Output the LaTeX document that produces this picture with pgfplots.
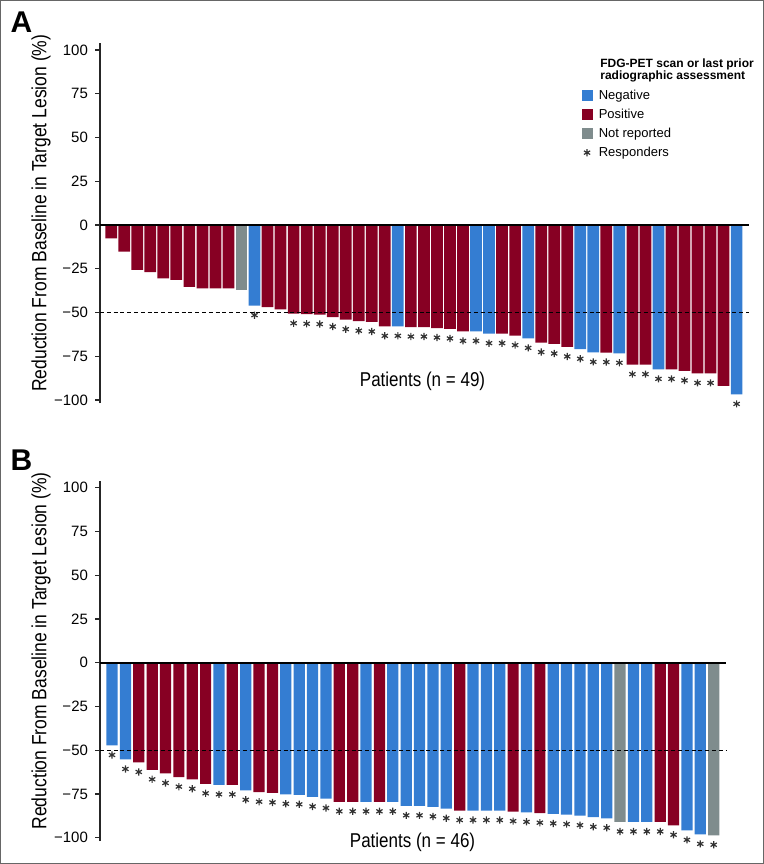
\documentclass[border=0pt]{standalone}
\usepackage{pgfplots}
\pgfplotsset{compat=1.18}
\usepackage{fontspec}
\setmainfont{Liberation Sans}
\newfontfamily\condfont[FakeStretch=0.85]{Liberation Sans}
\definecolor{negblue}{RGB}{52,125,210}
\definecolor{posred}{RGB}{135,0,35}
\definecolor{nrgray}{RGB}{127,140,141}
\definecolor{stargray}{RGB}{50,50,50}
\pgfplotsset{
  wf/.style={
    scale only axis, height=180.25pt,
    ymin=-102, ymax=104,
    axis x line=none, axis y line*=left,
    y axis line style={line width=0.9pt, black!85},
    ytick={-100,-75,-50,-25,0,25,50,75,100},
    yticklabels={−100,−75,−50,−25,0,25,50,75,100},
    tick align=outside, major tick length=2.5pt,
    ytick style={line width=0.6pt, black!85},
    yticklabel style={font=\fontsize{7.5}{9}\selectfont},
    ylabel={Reduction From Baseline in Target Lesion (\%)},
    ylabel style={font=\condfont\fontsize{10.3}{12}\selectfont, anchor=center},
    clip=false,
  },
  bb/.style={ybar, bar width=0.9, bar shift=0pt, draw=none, fill=#1},
  bbB/.style={ybar, bar width=0.84, bar shift=0pt, draw=none, fill=#1},
  stars/.style={only marks, mark=asterisk, mark size=1.8pt, stargray, mark options={stargray, line width=0.6pt, yshift=-4.75pt}},
  sqleg/.style={legend image code/.code={\fill[#1] (0pt,-2.75pt) rectangle (5.5pt,2.75pt);}},
}
\begin{document}
\begin{tikzpicture}
\useasboundingbox (0,0) rectangle (382pt,432pt);
\draw[line width=0.6pt, black!60] (0.3pt,0.3pt) rectangle (381.7pt,431.7pt);
\node[font=\bfseries\fontsize{15}{15}\selectfont] at (10.75pt,421pt) {A};
\node[font=\bfseries\fontsize{15}{15}\selectfont] at (10.75pt,201.75pt) {B};
% ---------------- Panel A
\begin{axis}[wf, at={(50pt,230.25pt)}, anchor=south west, width=324.5pt,
  xmin=0.14, xmax=49.95,
  ylabel style={at={(axis description cs:-0.0909,0.528)}},
  legend style={at={(axis description cs:0.742,0.8739)}, anchor=north west, draw=none, fill=none,
    inner sep=0pt, outer sep=0pt,
    font=\fontsize{6.5}{7.5}\selectfont, row sep=2.3pt,
    nodes={inner sep=0.5pt, text height=4.8pt, text depth=1.4pt},
    /tikz/every odd column/.append style={column sep=2.6pt}},
  legend cell align=left]
\addplot[bb=negblue, sqleg=negblue] coordinates {(12,-46.1)(23,-57.9)(29,-60.8)(30,-62.1)(33,-64.8)(37,-71.0)(38,-72.8)(40,-73.3)(43,-82.5)(49,-96.8)};
\addlegendentry{Negative}
\addplot[bb=posred, sqleg=posred] coordinates {(1,-7.6)(2,-15.2)(3,-25.7)(4,-27)(5,-30.5)(6,-31.4)(7,-35.4)(8,-36.2)(9,-36.2)(10,-36.2)
 (13,-47)(14,-48.2)(15,-50.7)(16,-51)(17,-51.2)(18,-52.6)(19,-54.1)(20,-55)(21,-55.4)(22,-57.9)
 (24,-58.3)(25,-58.3)(26,-58.9)(27,-59.4)(28,-60.8)(31,-62.1)(32,-63.2)(34,-67.2)(35,-68)(36,-69.7)
 (39,-72.9)(41,-79.8)(42,-79.8)(44,-82.5)(45,-83.4)(46,-84.8)(47,-84.8)(48,-92)};
\addlegendentry{Positive}
\addplot[bb=nrgray, sqleg=nrgray] coordinates {(11,-37.3)};
\addlegendentry{Not reported}
\addplot[stars, legend image code/.code={\draw[stargray, line width=0.6pt] plot[mark=asterisk, mark size=1.8pt, only marks, mark options={stargray, line width=0.6pt}] coordinates {(2.75pt,0pt)};}] coordinates {(12,-46.1)
 (15,-50.7)(16,-51)(17,-51.2)(18,-52.6)(19,-54.1)(20,-55)(21,-55.4)(22,-57.9)(23,-57.9)
 (24,-58.3)(25,-58.3)(26,-58.9)(27,-59.4)(28,-60.8)(29,-60.8)(30,-62.1)(31,-62.1)(32,-63.2)(33,-64.8)(34,-67.2)(35,-68)(36,-69.7)
 (37,-71.0)(38,-72.8)(39,-72.9)(40,-73.3)(41,-79.8)(42,-79.8)(43,-82.5)(44,-82.5)(45,-83.4)(46,-84.8)(47,-84.8)(49,-96.8)};
\addlegendentry{Responders}
\addplot[forget plot, black, line width=0.7pt, dash pattern=on 2pt off 1.4pt] coordinates {(0.14,-50)(49.95,-50)};
\addplot[forget plot, black, line width=0.8pt] coordinates {(0.14,0)(49.95,0)};
\node[font=\condfont\fontsize{10}{12}\selectfont] at (axis description cs:0.497,0.062) {Patients (n = 49)};
\node[font=\bfseries\fontsize{6}{7}\selectfont, anchor=base west, inner sep=0pt] at (axis description cs:0.7704,0.9334) {FDG-PET scan or last prior};
\node[font=\bfseries\fontsize{6}{7}\selectfont, anchor=base west, inner sep=0pt] at (axis description cs:0.7704,0.8974) {radiographic assessment};
\end{axis}
% ---------------- Panel B
\begin{axis}[wf, at={(50pt,11.4pt)}, anchor=south west, width=312.85pt,
  xmin=0.1, xmax=46.9,
  ylabel style={at={(axis description cs:-0.0943,0.528)}}]
\addplot[bbB=negblue] coordinates {(1,-47.3)(2,-55.3)(9,-69.8)(11,-72.9)(14,-75.2)(15,-75.5)(16,-76.7)(17,-77.6)(20,-79.5)(22,-79.5)
 (23,-81.8)(24,-81.8)(25,-82.4)(26,-83.4)(28,-84.5)(29,-84.5)(30,-84.5)(32,-85.5)(34,-86.4)(35,-86.8)(36,-87.4)(37,-88.3)(38,-88.9)
 (40,-91.0)(41,-91.0)(44,-95.8)(45,-98.1)};
\addplot[bbB=posred] coordinates {(3,-57)(4,-61.2)(5,-63.3)(6,-65.4)(7,-66.6)(8,-69.2)(10,-69.8)(12,-74)(13,-74.4)(18,-79.5)(19,-79.5)(21,-79.5)
 (27,-84.5)(31,-85.1)(33,-86.0)(42,-91.0)(43,-92.9)};
\addplot[bbB=nrgray] coordinates {(39,-91.0)(46,-98.6)};
\addplot[stars] coordinates {(1,-47.3)(2,-55.3)(3,-57)(4,-61.2)(5,-63.3)(6,-65.4)(7,-66.6)(8,-69.2)(9,-69.8)(10,-69.8)
 (11,-72.9)(12,-74)(13,-74.4)(14,-75.2)(15,-75.5)(16,-76.7)(17,-77.6)(18,-79.5)(19,-79.5)(20,-79.5)(21,-79.5)(22,-79.5)
 (23,-81.8)(24,-81.8)(25,-82.4)(26,-83.4)(27,-84.5)(28,-84.5)(29,-84.5)(30,-84.5)(31,-85.1)(32,-85.5)(33,-86.0)(34,-86.4)
 (35,-86.8)(36,-87.4)(37,-88.3)(38,-88.9)(39,-91.0)(40,-91.0)(41,-91.0)(42,-91.0)(43,-92.9)(44,-95.8)(45,-98.1)(46,-98.6)};
\addplot[forget plot, black, line width=0.7pt, dash pattern=on 2pt off 1.4pt] coordinates {(0.1,-50)(46.9,-50)};
\addplot[forget plot, black, line width=0.8pt] coordinates {(0.1,0)(46.9,0)};
\node[font=\condfont\fontsize{10}{12}\selectfont] at (axis description cs:0.4995,-0.004) {Patients (n = 46)};
\end{axis}
\end{tikzpicture}
\end{document}
